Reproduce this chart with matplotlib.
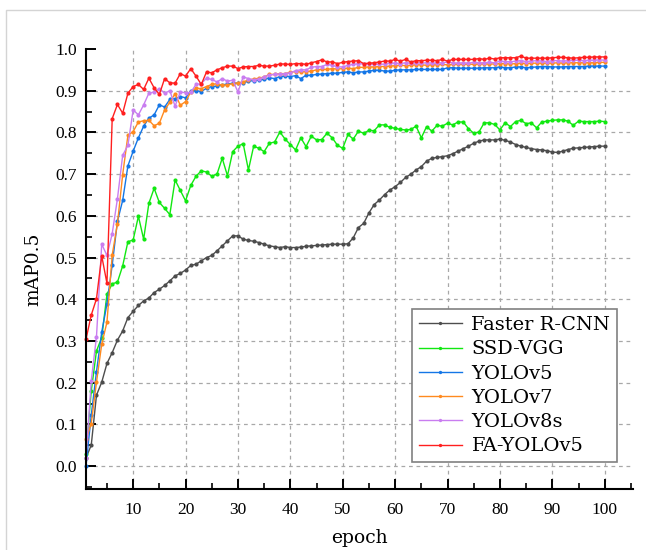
import matplotlib
matplotlib.use("Agg")
import matplotlib.pyplot as plt
from matplotlib.ticker import MultipleLocator, FixedLocator
from matplotlib.patches import Rectangle
import numpy as np

epochs = list(range(1, 101))

faster_rcnn = [0.02, 0.05, 0.17, 0.201, 0.246, 0.272, 0.302, 0.324, 0.356, 0.371,
               0.385, 0.396, 0.403, 0.416, 0.424, 0.433, 0.444, 0.456, 0.462, 0.470,
               0.481, 0.484, 0.492, 0.500, 0.505, 0.516, 0.528, 0.540, 0.552, 0.552,
               0.544, 0.541, 0.539, 0.536, 0.532, 0.528, 0.526, 0.524, 0.526, 0.524,
               0.524, 0.525, 0.527, 0.528, 0.529, 0.530, 0.531, 0.532, 0.532, 0.532,
               0.533, 0.547, 0.572, 0.582, 0.607, 0.627, 0.638, 0.651, 0.662, 0.670,
               0.680, 0.692, 0.700, 0.710, 0.718, 0.731, 0.738, 0.740, 0.742, 0.744,
               0.749, 0.755, 0.761, 0.767, 0.774, 0.779, 0.782, 0.782, 0.782, 0.784,
               0.781, 0.777, 0.771, 0.767, 0.764, 0.761, 0.759, 0.758, 0.756, 0.753,
               0.752, 0.755, 0.759, 0.762, 0.763, 0.764, 0.765, 0.766, 0.767, 0.767]

ssd_vgg = [0.03, 0.18, 0.276, 0.308, 0.412, 0.437, 0.441, 0.480, 0.538, 0.542,
           0.599, 0.544, 0.630, 0.666, 0.632, 0.618, 0.603, 0.686, 0.661, 0.636,
           0.673, 0.695, 0.708, 0.705, 0.695, 0.700, 0.738, 0.696, 0.754, 0.767,
           0.773, 0.710, 0.767, 0.762, 0.754, 0.774, 0.777, 0.801, 0.784, 0.771,
           0.758, 0.787, 0.766, 0.791, 0.782, 0.783, 0.798, 0.787, 0.769, 0.762,
           0.795, 0.784, 0.803, 0.798, 0.805, 0.804, 0.818, 0.818, 0.812, 0.810,
           0.807, 0.806, 0.807, 0.815, 0.787, 0.814, 0.803, 0.817, 0.815, 0.822,
           0.818, 0.825, 0.825, 0.809, 0.798, 0.801, 0.823, 0.823, 0.819, 0.806,
           0.823, 0.814, 0.826, 0.829, 0.821, 0.823, 0.811, 0.825, 0.827, 0.829,
           0.830, 0.830, 0.827, 0.817, 0.827, 0.826, 0.826, 0.826, 0.827, 0.826]

yolov5 = [0.0, 0.122, 0.226, 0.321, 0.389, 0.482, 0.587, 0.637, 0.720, 0.755,
          0.787, 0.815, 0.834, 0.842, 0.866, 0.861, 0.879, 0.881, 0.886, 0.883,
          0.900, 0.900, 0.898, 0.906, 0.910, 0.911, 0.914, 0.916, 0.918, 0.918,
          0.919, 0.923, 0.924, 0.926, 0.927, 0.931, 0.929, 0.934, 0.935, 0.934,
          0.936, 0.929, 0.937, 0.937, 0.939, 0.940, 0.941, 0.942, 0.942, 0.944,
          0.945, 0.943, 0.945, 0.945, 0.947, 0.949, 0.949, 0.947, 0.947, 0.949,
          0.950, 0.950, 0.950, 0.951, 0.951, 0.951, 0.951, 0.951, 0.951, 0.955,
          0.955, 0.954, 0.954, 0.954, 0.954, 0.954, 0.955, 0.955, 0.955, 0.957,
          0.955, 0.955, 0.957, 0.957, 0.955, 0.956, 0.957, 0.958, 0.958, 0.957,
          0.957, 0.957, 0.958, 0.958, 0.958, 0.958, 0.959, 0.959, 0.959, 0.959]

yolov7 = [0.064, 0.102, 0.201, 0.292, 0.345, 0.506, 0.581, 0.699, 0.793, 0.802,
          0.825, 0.828, 0.829, 0.816, 0.822, 0.854, 0.872, 0.893, 0.865, 0.874,
          0.897, 0.906, 0.905, 0.910, 0.915, 0.917, 0.913, 0.914, 0.917, 0.919,
          0.921, 0.926, 0.928, 0.930, 0.933, 0.939, 0.939, 0.941, 0.941, 0.944,
          0.946, 0.945, 0.946, 0.947, 0.950, 0.951, 0.951, 0.953, 0.952, 0.953,
          0.954, 0.953, 0.956, 0.956, 0.957, 0.957, 0.958, 0.958, 0.959, 0.960,
          0.961, 0.960, 0.961, 0.962, 0.962, 0.961, 0.962, 0.962, 0.963, 0.962,
          0.963, 0.963, 0.963, 0.964, 0.963, 0.964, 0.964, 0.964, 0.964, 0.965,
          0.965, 0.964, 0.965, 0.966, 0.965, 0.966, 0.966, 0.966, 0.966, 0.966,
          0.967, 0.966, 0.967, 0.967, 0.967, 0.967, 0.967, 0.967, 0.968, 0.968]

yolov8s = [0.02, 0.204, 0.31, 0.532, 0.505, 0.557, 0.641, 0.745, 0.769, 0.854,
           0.842, 0.866, 0.894, 0.897, 0.905, 0.894, 0.900, 0.863, 0.897, 0.895,
           0.896, 0.915, 0.917, 0.930, 0.927, 0.921, 0.929, 0.923, 0.925, 0.897,
           0.933, 0.929, 0.926, 0.928, 0.933, 0.938, 0.939, 0.940, 0.941, 0.943,
           0.948, 0.950, 0.950, 0.956, 0.958, 0.958, 0.963, 0.961, 0.957, 0.957,
           0.961, 0.963, 0.965, 0.964, 0.964, 0.964, 0.963, 0.964, 0.966, 0.966,
           0.965, 0.967, 0.966, 0.967, 0.966, 0.967, 0.966, 0.966, 0.967, 0.969,
           0.967, 0.966, 0.967, 0.966, 0.968, 0.967, 0.967, 0.968, 0.967, 0.971,
           0.970, 0.969, 0.971, 0.972, 0.970, 0.971, 0.972, 0.971, 0.970, 0.972,
           0.972, 0.971, 0.972, 0.973, 0.973, 0.972, 0.973, 0.973, 0.974, 0.973]

fa_yolov5 = [0.304, 0.362, 0.401, 0.504, 0.438, 0.833, 0.867, 0.846, 0.894, 0.910,
             0.915, 0.903, 0.930, 0.907, 0.891, 0.929, 0.919, 0.918, 0.941, 0.935,
             0.953, 0.935, 0.915, 0.945, 0.943, 0.950, 0.955, 0.959, 0.959, 0.953,
             0.957, 0.958, 0.958, 0.961, 0.959, 0.959, 0.961, 0.964, 0.964, 0.963,
             0.965, 0.965, 0.963, 0.967, 0.970, 0.974, 0.969, 0.969, 0.965, 0.968,
             0.970, 0.971, 0.972, 0.965, 0.966, 0.967, 0.969, 0.971, 0.971, 0.975,
             0.971, 0.975, 0.969, 0.972, 0.972, 0.973, 0.973, 0.972, 0.975, 0.971,
             0.975, 0.975, 0.975, 0.975, 0.975, 0.977, 0.975, 0.978, 0.976, 0.979,
             0.979, 0.979, 0.979, 0.983, 0.978, 0.978, 0.978, 0.978, 0.978, 0.979,
             0.980, 0.980, 0.979, 0.978, 0.979, 0.980, 0.980, 0.981, 0.981, 0.981]

series_names = ["Faster R-CNN", "SSD-VGG", "YOLOv5", "YOLOv7", "YOLOv8s", "FA-YOLOv5"]
series_values = [faster_rcnn, ssd_vgg, yolov5, yolov7, yolov8s, fa_yolov5]
series_colors = ["#4d4d4d", "#11e811", "#1476e6", "#ff8a1f", "#c97df0", "#ff1f1f"]

x_ticks = [10, 20, 30, 40, 50, 60, 70, 80, 90, 100]
y_ticks = [0.0, 0.1, 0.2, 0.3, 0.4, 0.5, 0.6, 0.7, 0.8, 0.9, 1.0]

fig = plt.figure(figsize=(6.46, 5.5), dpi=100)
ax = fig.add_axes([86/646, 1 - 489/550, (633-86)/646, (489-49)/550])

# light frame around the figure
fig.patches.append(Rectangle((6/646, -0.1), 1.2, (540/550) + 0.1, transform=fig.transFigure,
                             fill=False, edgecolor="#d4d4d4", linewidth=1.0))

for name, vals, col in zip(series_names, series_values, series_colors):
    ax.plot(epochs, vals, color=col, linewidth=1.0, marker="o", markersize=3.0,
            markeredgewidth=0, label=name, clip_on=False)

ax.set_xlim(1, 105.4)
ax.set_ylim(-0.055, 1.0)

ax.xaxis.set_major_locator(FixedLocator(x_ticks))
ax.xaxis.set_minor_locator(MultipleLocator(5))
ax.yaxis.set_major_locator(FixedLocator(y_ticks))
ax.yaxis.set_minor_locator(MultipleLocator(0.05))
ax.set_yticklabels([f"{v:.1f}" for v in y_ticks])

ax.grid(True, which="major", linestyle=(0, (3, 3)), color="#a8a8a8", linewidth=0.9)
ax.yaxis.get_major_ticks()[-1].gridline.set_visible(False)

for side in ["top", "right"]:
    ax.spines[side].set_visible(False)
for side in ["left", "bottom"]:
    ax.spines[side].set_linewidth(1.5)

ax.tick_params(which="major", direction="in", length=7, width=1.4)
ax.tick_params(which="minor", direction="in", length=4, width=1.2)
ax.tick_params(axis="x", which="major", pad=9)
ax.tick_params(axis="y", which="major", pad=6.5)

for lbl in ax.get_xticklabels() + ax.get_yticklabels():
    lbl.set_fontfamily("Liberation Serif")
    lbl.set_fontsize(12.5)

ax.set_xlabel("epoch", fontfamily="DejaVu Serif", fontsize=13.5, labelpad=8)
ax.set_ylabel("mAP0.5", fontfamily="DejaVu Serif", fontsize=13.5, labelpad=9)

leg = ax.legend(loc="lower right", bbox_to_anchor=(0.971, 0.061), borderaxespad=0,
                prop={"family": "DejaVu Serif", "size": 14}, numpoints=1,
                handlelength=2.2, handletextpad=0.5, labelspacing=0.32,
                borderpad=0.35, fancybox=False, framealpha=1.0, markerscale=0.8)
leg.get_frame().set_edgecolor("#808080")
leg.get_frame().set_linewidth(1.2)

fig.savefig("out.png", dpi=100)
